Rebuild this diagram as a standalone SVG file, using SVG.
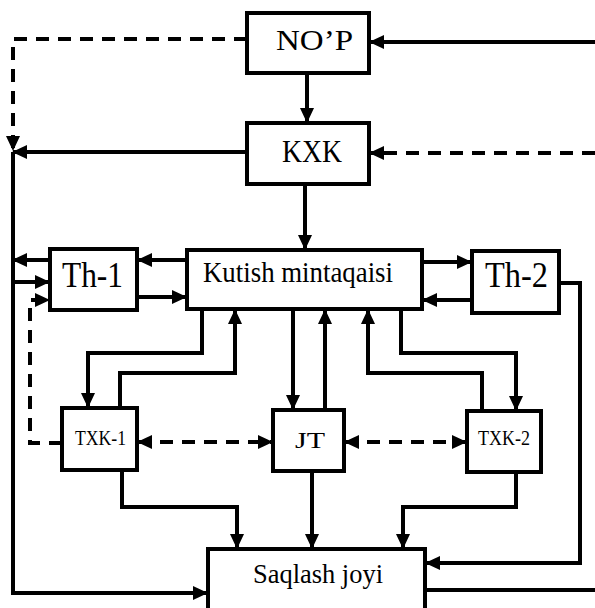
<svg xmlns="http://www.w3.org/2000/svg" width="595" height="608" viewBox="0 0 595 608">
<style>
.box{fill:#fff;stroke:#000;stroke-width:4}
.ln{fill:none;stroke:#000;stroke-width:4;marker-end:url(#ah)}
.pl{fill:none;stroke:#000;stroke-width:4}
.ds{fill:none;stroke:#000;stroke-width:4;stroke-dasharray:13 9;marker-end:url(#ah)}
.bi{fill:none;stroke:#000;stroke-width:4;stroke-dasharray:13 9;marker-end:url(#ah);marker-start:url(#ah)}
text{font-family:"Liberation Serif","Times New Roman",serif;fill:#000}
</style>
<defs>
<marker id="ah" markerUnits="userSpaceOnUse" markerWidth="15" markerHeight="14" refX="14" refY="7" orient="auto-start-reverse" viewBox="0 0 15 14">
<path d="M0,0 L15,7 L0,14 z" fill="#000"/>
</marker>
</defs>
<g id="connectors">
<path class="ln" d="M595,42 H370"/>
<path class="ln" d="M307,73 V122"/>
<path class="ds" d="M595,153 H370"/>
<path class="ds" d="M247,39 H13 V150"/>
<path class="ln" d="M247,152 H13"/>
<path class="ln" d="M13,152 V593 H207"/>
<path class="ln" d="M13,282 H49"/>
<path class="ln" d="M50,260 H13"/>
<path class="ln" d="M305,184 V249"/>
<path class="ln" d="M187,260 H138"/>
<path class="ln" d="M137,297 H186"/>
<path class="ln" d="M422,262 H471"/>
<path class="ln" d="M472,300 H423"/>
<path class="ln" d="M559,283 H580 V563 H426"/>
<path class="pl" d="M425,590 H595"/>
<path class="ln" d="M202,309 V353 H88 V407"/>
<path class="ln" d="M120,408 V373 H235 V310"/>
<path class="ln" d="M293,309 V409"/>
<path class="ln" d="M325,410 V310"/>
<path class="ln" d="M482,411 V373 H368 V310"/>
<path class="ln" d="M401,309 V353 H516 V410"/>
<path class="bi" d="M138,442 H272"/>
<path class="bi" d="M345,442 H466"/>
<path class="ds" d="M62,443 H30 V300 H49"/>
<path class="ln" d="M122,470 V507 H237 V548"/>
<path class="ln" d="M312,471 V548"/>
<path class="ln" d="M516,472 V507 H403 V548"/>
</g>
<g id="nop"><rect class="box" x="247" y="13" width="122" height="60"/><text x="276" y="50" font-size="29" textLength="77" lengthAdjust="spacingAndGlyphs">NO’P</text></g>
<g id="kxk"><rect class="box" x="247" y="123" width="122" height="61"/><text x="282" y="162" font-size="32" textLength="60" lengthAdjust="spacingAndGlyphs">KXK</text></g>
<g id="kutish"><rect class="box" x="187" y="250" width="235" height="59"/><text x="203" y="282" font-size="30" textLength="190" lengthAdjust="spacingAndGlyphs">Kutish mintaqaisi</text></g>
<g id="th1"><rect class="box" x="50" y="249" width="87" height="61"/><text x="62" y="287" font-size="35" textLength="61" lengthAdjust="spacingAndGlyphs">Th-1</text></g>
<g id="th2"><rect class="box" x="472" y="251" width="87" height="62"/><text x="485" y="287" font-size="35" textLength="63" lengthAdjust="spacingAndGlyphs">Th-2</text></g>
<g id="txk1"><rect class="box" x="62" y="408" width="75" height="62"/><text x="75" y="445" font-size="21" textLength="51" lengthAdjust="spacingAndGlyphs">TXK-1</text></g>
<g id="jt"><rect class="box" x="273" y="410" width="71" height="61"/><text x="295" y="448" font-size="24" textLength="30" lengthAdjust="spacingAndGlyphs">JT</text></g>
<g id="txk2"><rect class="box" x="467" y="411" width="74" height="61"/><text x="478" y="445" font-size="21" textLength="52" lengthAdjust="spacingAndGlyphs">TXK-2</text></g>
<g id="saqlash"><rect class="box" x="208" y="549" width="217" height="62"/><text x="253" y="583" font-size="28" textLength="130" lengthAdjust="spacingAndGlyphs">Saqlash joyi</text></g>
</svg>
